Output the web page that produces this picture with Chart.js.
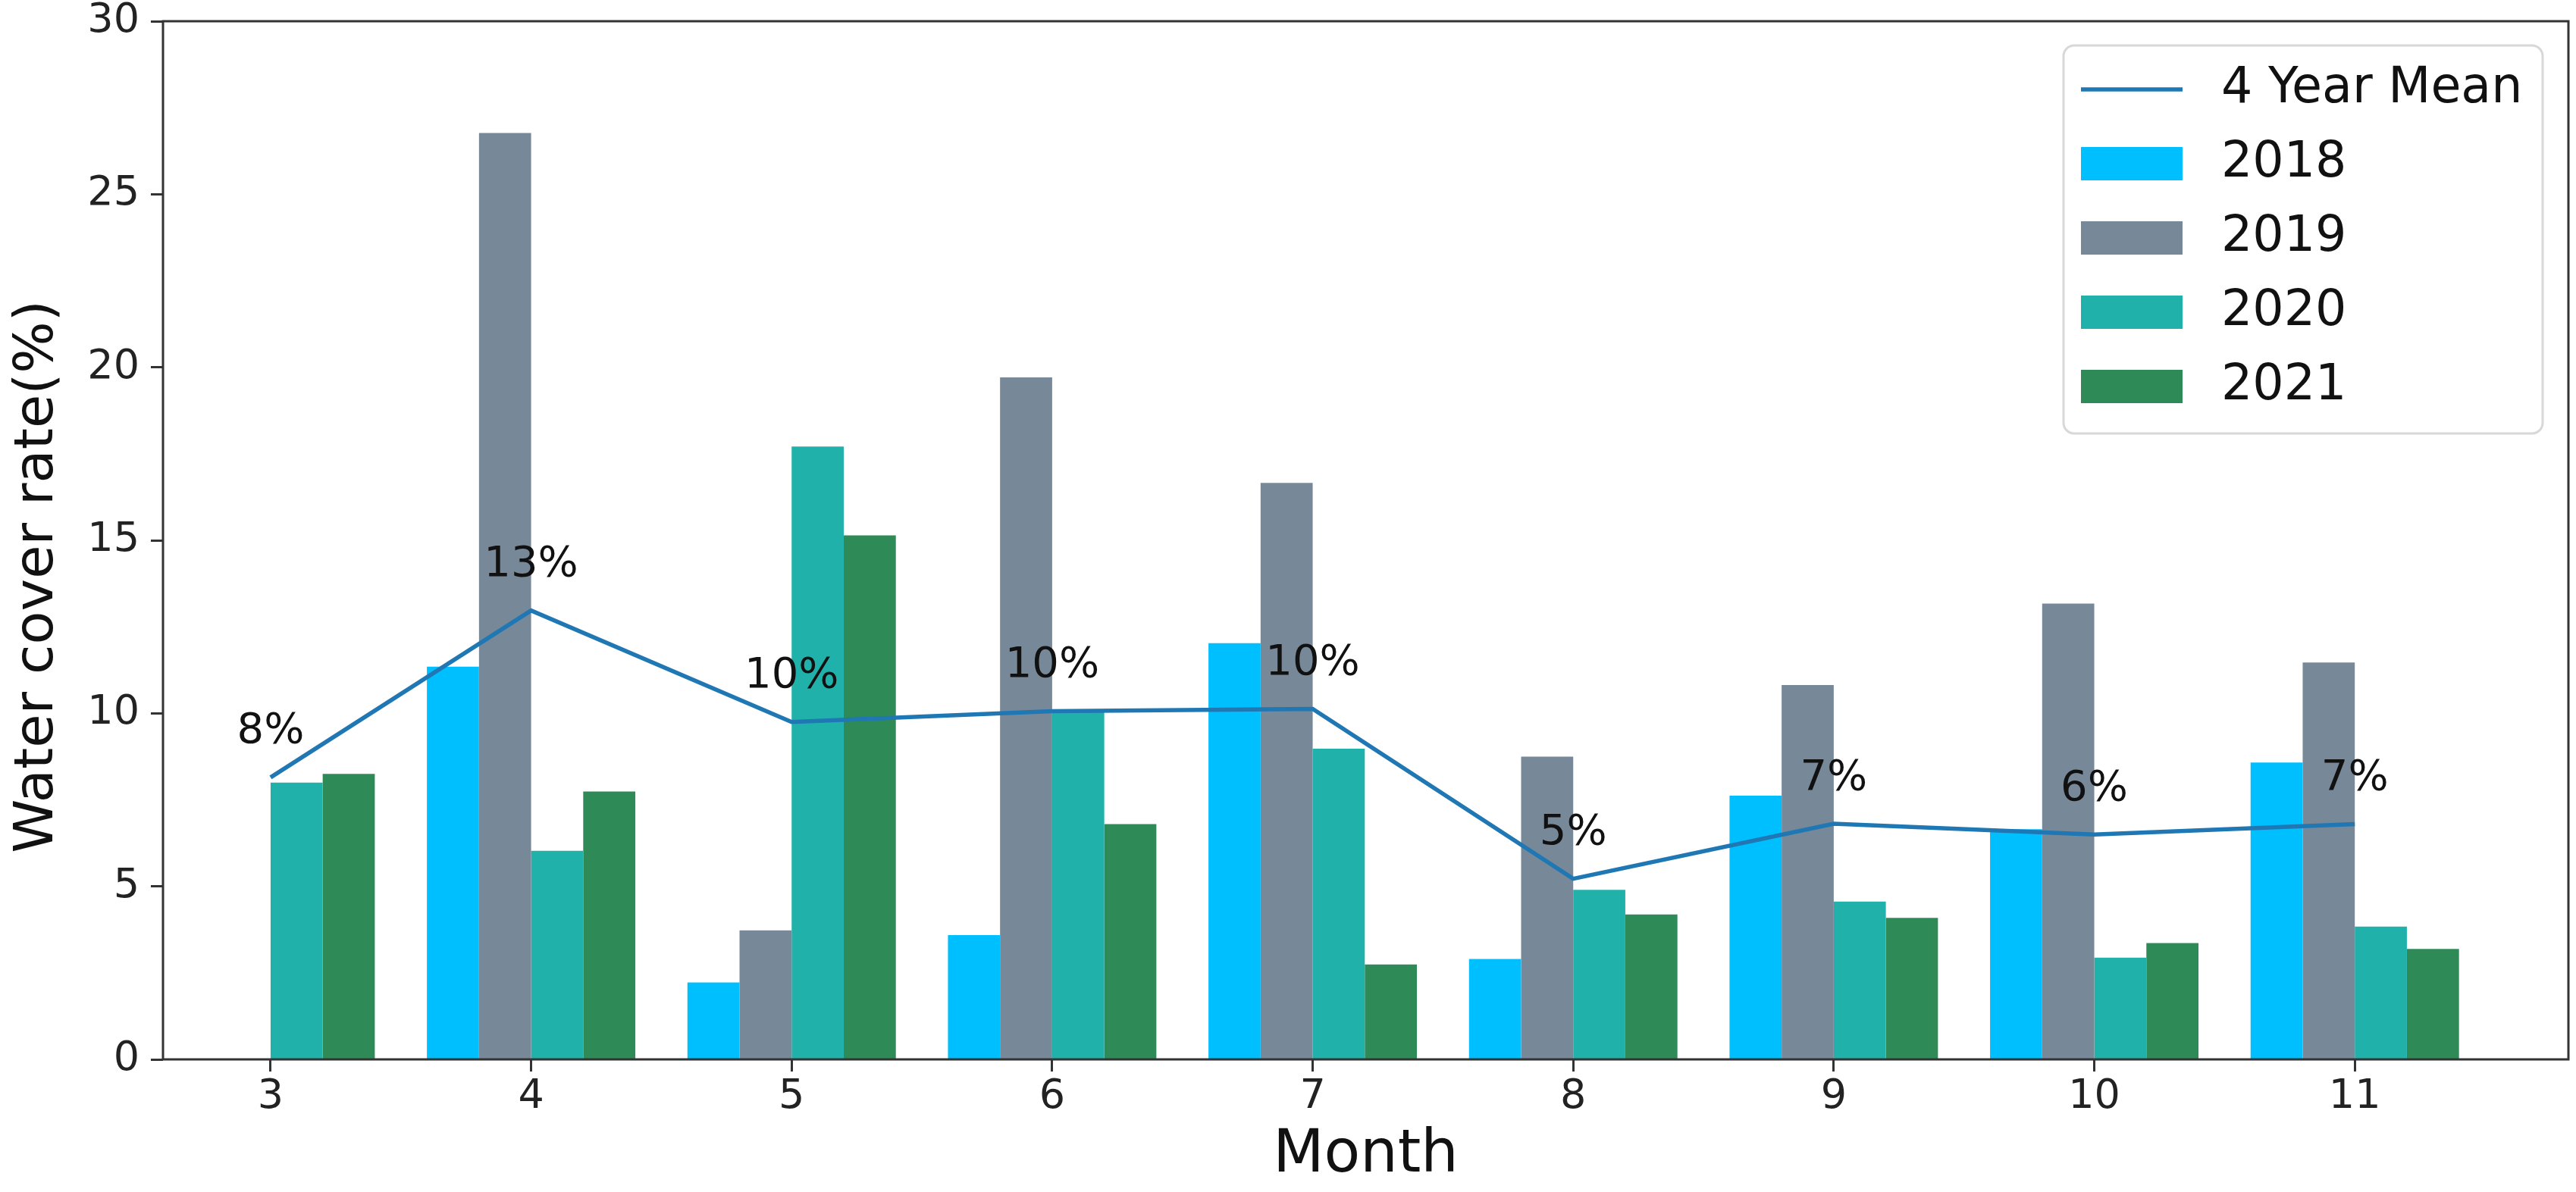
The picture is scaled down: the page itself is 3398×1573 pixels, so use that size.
<!DOCTYPE html>
<html>
<head>
<meta charset="utf-8">
<title>Water cover rate by month</title>
<script src="https://cdn.jsdelivr.net/npm/chart.js@4.4.1/dist/chart.umd.min.js"></script>
<style>
  html, body { margin: 0; padding: 0; background: #fff; }
  #wrap { width: 3398px; height: 1573px; }
</style>
</head>
<body>
<div id="wrap"><canvas id="waterChart" width="3398" height="1573"></canvas></div>
<script>
// Months on the x axis
const months = [3, 4, 5, 6, 7, 8, 9, 10, 11];

// Water cover rate (%) per year, null where there is no bar
const cover2018 = [null, 11.35, 2.22, 3.59, 12.03, 2.90, 7.62, 6.65, 8.58];
const cover2019 = [null, 26.77, 3.73, 19.71, 16.66, 8.75, 10.82, 13.17, 11.47];
const cover2020 = [8.00, 6.03, 17.71, 10.10, 8.98, 4.90, 4.56, 2.94, 3.84];
const cover2021 = [8.25, 7.74, 15.14, 6.80, 2.74, 4.19, 4.09, 3.36, 3.19];

// 4 year mean line and the text written above each point
const fourYearMean = [8.15, 12.97, 9.75, 10.06, 10.13, 5.22, 6.81, 6.50, 6.80];
const meanLabels = ['8%', '13%', '10%', '10%', '10%', '5%', '7%', '6%', '7%'];

const yTicks = [0, 5, 10, 15, 20, 25, 30];
const yTitle = 'Water cover rate(%)';

const FONT = '"DejaVu Sans", sans-serif';

// Matplotlib style frame round the plot area
const framePlugin = {
  id: 'frame',
  afterDatasetsDraw(chart) {
    const { ctx, chartArea } = chart;
    ctx.save();
    ctx.strokeStyle = '#333';
    ctx.lineWidth = 3;
    ctx.strokeRect(chartArea.left, chartArea.top,
      chartArea.right - chartArea.left, chartArea.bottom - chartArea.top);
    ctx.restore();
  }
};

// Y axis title, sits a little below the middle of the axis like the original
const yTitlePlugin = {
  id: 'yTitle',
  afterDraw(chart) {
    const { ctx, chartArea } = chart;
    const cy = (chartArea.top + chartArea.bottom) / 2 + 48;
    ctx.save();
    ctx.translate(50, cy);
    ctx.rotate(-Math.PI / 2);
    ctx.font = '72px ' + FONT;
    ctx.fillStyle = '#111';
    ctx.textAlign = 'center';
    ctx.textBaseline = 'middle';
    ctx.fillText(yTitle, 0, 0);
    ctx.restore();
  }
};

// Percent labels above the mean line
const meanLabelPlugin = {
  id: 'meanLabels',
  afterDatasetsDraw(chart) {
    const meta = chart.getDatasetMeta(0);
    const ctx = chart.ctx;
    ctx.save();
    ctx.font = '56px ' + FONT;
    ctx.fillStyle = '#111';
    ctx.textAlign = 'center';
    ctx.textBaseline = 'middle';
    meta.data.forEach((pt, i) => {
      ctx.fillText(meanLabels[i], pt.x, pt.y - 60);
    });
    ctx.restore();
  }
};

// Legend in a rounded box, top right inside the plot
const boxLegendPlugin = {
  id: 'boxLegend',
  afterDraw(chart) {
    const { ctx, chartArea } = chart;
    const w = 632;
    const h = 512;
    const right = chartArea.right - 34;
    const top = chartArea.top + 32;
    const left = right - w;

    ctx.save();
    ctx.fillStyle = 'rgba(255,255,255,0.85)';
    ctx.strokeStyle = '#d8d8d8';
    ctx.lineWidth = 3;
    ctx.beginPath();
    ctx.roundRect(left, top, w, h, 14);
    ctx.fill();
    ctx.stroke();

    ctx.font = '65px ' + FONT;
    ctx.textAlign = 'left';
    ctx.textBaseline = 'middle';

    chart.data.datasets.forEach((ds, i) => {
      const cy = top + 58 + i * 98;
      if (ds.type === 'line') {
        ctx.strokeStyle = ds.borderColor;
        ctx.lineWidth = ds.borderWidth;
        ctx.beginPath();
        ctx.moveTo(left + 23, cy);
        ctx.lineTo(left + 157, cy);
        ctx.stroke();
      } else {
        ctx.fillStyle = ds.backgroundColor;
        ctx.fillRect(left + 23, cy - 22, 134, 44);
      }
      ctx.fillStyle = '#111';
      ctx.fillText(ds.label, left + 208, cy);
    });
    ctx.restore();
  }
};

const ctx = document.getElementById('waterChart').getContext('2d');

new Chart(ctx, {
  type: 'bar',
  data: {
    labels: months,
    datasets: [
      {
        type: 'line',
        label: '4 Year Mean',
        data: fourYearMean,
        borderColor: '#1f77b4',
        borderWidth: 5.5,
        pointRadius: 0,
        tension: 0,
        order: 0
      },
      { label: '2018', data: cover2018, backgroundColor: '#00BFFF', order: 1 },
      { label: '2019', data: cover2019, backgroundColor: '#778899', order: 1 },
      { label: '2020', data: cover2020, backgroundColor: '#20B2AA', order: 1 },
      { label: '2021', data: cover2021, backgroundColor: '#2E8B57', order: 1 }
    ]
  },
  options: {
    responsive: false,
    devicePixelRatio: 1,
    animation: false,
    categoryPercentage: 0.8,
    barPercentage: 1.0,
    layout: {
      padding: { top: 28, right: 10, left: 0, bottom: 0 }
    },
    plugins: {
      legend: { display: false },
      tooltip: { enabled: false }
    },
    scales: {
      x: {
        type: 'linear',
        offset: false,
        min: 2.587,
        max: 11.82,
        afterBuildTicks: (scale) => {
          scale.ticks = months.map(m => ({ value: m }));
        },
        afterFit: (scale) => {
          scale.height = 175;
          scale.paddingLeft = 0;
          scale.paddingRight = 0;
        },
        grid: {
          display: true,
          offset: false,
          drawOnChartArea: false,
          drawTicks: true,
          tickLength: 16,
          tickWidth: 3,
          tickColor: '#333'
        },
        border: { display: false },
        ticks: {
          padding: 2,
          color: '#222',
          font: { family: FONT, size: 54 }
        },
        title: {
          display: true,
          text: 'Month',
          color: '#111',
          padding: { top: 0, bottom: 0 },
          font: { family: FONT, size: 78 }
        }
      },
      y: {
        min: 0,
        max: 30,
        afterBuildTicks: (scale) => {
          scale.ticks = yTicks.map(v => ({ value: v }));
        },
        afterFit: (scale) => {
          scale.width = 215;
          scale.paddingTop = 0;
          scale.paddingBottom = 0;
        },
        grid: {
          display: true,
          drawOnChartArea: false,
          drawTicks: true,
          tickLength: 16,
          tickWidth: 3,
          tickColor: '#333'
        },
        border: { display: false },
        ticks: {
          padding: 15,
          color: '#222',
          font: { family: FONT, size: 54 }
        }
      }
    }
  },
  plugins: [framePlugin, meanLabelPlugin, yTitlePlugin, boxLegendPlugin]
});
</script>
</body>
</html>
